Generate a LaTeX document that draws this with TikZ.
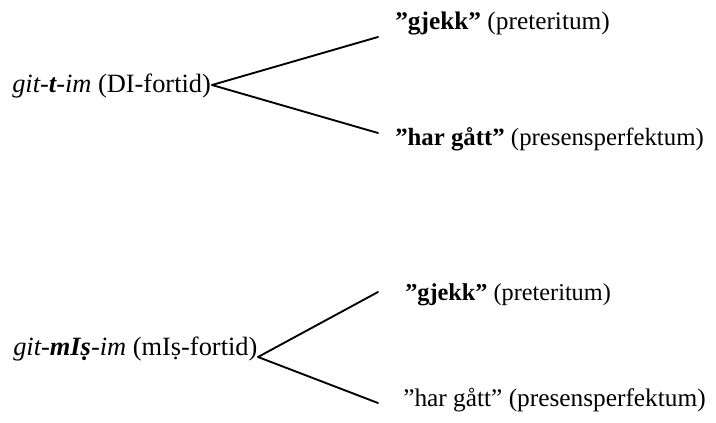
\documentclass[tikz,border=0pt]{standalone}
\usepackage{fontspec}
\setmainfont{Liberation Serif}
\begin{document}
\begin{tikzpicture}[x=0.75pt,y=-0.75pt,
  lbl/.style={anchor=base west,inner sep=0pt,font=\fontsize{19}{22}\selectfont},
  rootlbl/.style={lbl,font=\fontsize{19.8}{22}\selectfont},
  branch/.style={line width=1.4pt,line cap=round}]
\useasboundingbox (0,0) rectangle (716,423);
% top tree
\node[rootlbl] (r1) at (12,93) {\textit{git-\textbf{t}-im} (DI-fortid)};
\node[lbl] (a1) at (395,30) {\textbf{”gjekk”} (preteritum)};
\node[lbl,font=\fontsize{18.6}{22}\selectfont] (b1) at (395,146) {\textbf{”har gått”} (presensperfektum)};
\coordinate (v1) at (212,85);
\coordinate (e1a) at (378,37);
\coordinate (e1b) at (378,133);
\draw[branch] (v1) -- (e1a);
\draw[branch] (v1) -- (e1b);
% bottom tree
\node[rootlbl] (r2) at (13,355) {\textit{git-\textbf{mIṣ}-im} (mIṣ-fortid)};
\node[lbl,font=\fontsize{18.2}{22}\selectfont] (a2) at (405,301) {\textbf{”gjekk”} (preteritum)};
\node[lbl] (b2) at (403,406) {”har gått” (presensperfektum)};
\coordinate (v2) at (258,357);
\coordinate (e2a) at (378,292);
\coordinate (e2b) at (378,403);
\draw[branch] (v2) -- (e2a);
\draw[branch] (v2) -- (e2b);
\end{tikzpicture}
\end{document}
